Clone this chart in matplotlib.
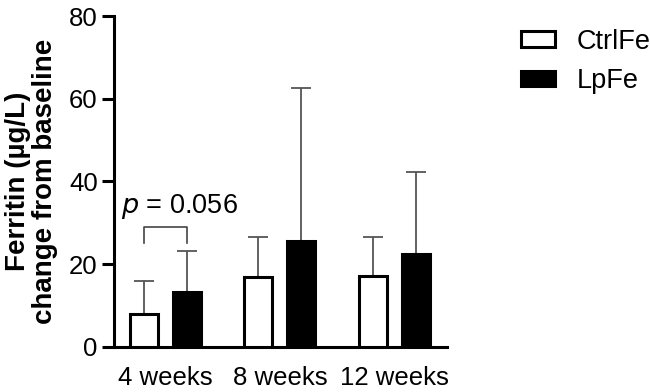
import numpy as np
import matplotlib.pyplot as plt
from matplotlib.patches import Patch

plt.rcParams['font.family'] = ['Liberation Sans', 'DejaVu Sans']

# data
groups = ['4 weeks', '8 weeks', '12 weeks']
ctrl_mean = [8.0, 16.9, 17.1]
ctrl_err = [8.0, 9.7, 9.5]
lp_mean = [13.3, 25.6, 22.5]
lp_err = [9.9, 37.0, 19.8]
series_names = ['CtrlFe', 'LpFe']
p_text = '0.056'

fs = 19.5
tick_fs = 18.5
fig = plt.figure(figsize=(6.5, 3.92), dpi=100)
ax = fig.add_axes([0.175, 0.115, 0.513, 0.844])

x = np.arange(len(groups))
width = 0.245
offset = 0.188
err_kw = dict(ecolor='#555555', elinewidth=1.3, capsize=7.5, capthick=1.3, zorder=2)

ax.bar(x - offset, ctrl_mean, width, facecolor='white', edgecolor='black', linewidth=2.2,
       yerr=[np.zeros(3), ctrl_err], error_kw=err_kw, zorder=3)
ax.bar(x + offset, lp_mean, width, facecolor='black', edgecolor='black', linewidth=2.2,
       yerr=[np.zeros(3), lp_err], error_kw=err_kw, zorder=3)

# significance bracket
x1, x2 = x[0] - offset, x[0] + offset
ax.plot([x1, x1, x2, x2], [25.2, 29, 29, 25.2], color='#444444', lw=1.2)
ax.text(x[0] - 0.39, 34.0, '$\\it{p}$ = ' + p_text, fontsize=fs, va='center', ha='left')

# appearance
ax.set_xlim(-0.45, 2.46)
ax.set_ylim(0, 80)
ax.set_yticks([0, 20, 40, 60, 80])
ax.set_xticks(x)
ax.set_xticklabels(groups)
ax.tick_params(axis='y', length=8.5, width=2.2, labelsize=tick_fs, pad=3)
ax.tick_params(axis='x', length=0, labelsize=tick_fs, pad=14)
for side in ['top', 'right']:
    ax.spines[side].set_visible(False)
for side in ['left', 'bottom']:
    ax.spines[side].set_linewidth(2.2)
ax.set_ylabel('Ferritin (µg/L)\nchange from baseline', fontsize=20, fontweight='bold',
              linespacing=1.05, labelpad=8)

handles = [Patch(facecolor='white', edgecolor='black', linewidth=2.2),
           Patch(facecolor='black', edgecolor='black', linewidth=2.2)]
fig.legend(handles, series_names, loc='upper left', bbox_to_anchor=(0.8015, 0.927),
           frameon=False, fontsize=fs, handlelength=1.26, handleheight=0.48,
           labelspacing=0.5, handletextpad=0.8, borderpad=0, borderaxespad=0)

fig.savefig('out.png', dpi=100)
